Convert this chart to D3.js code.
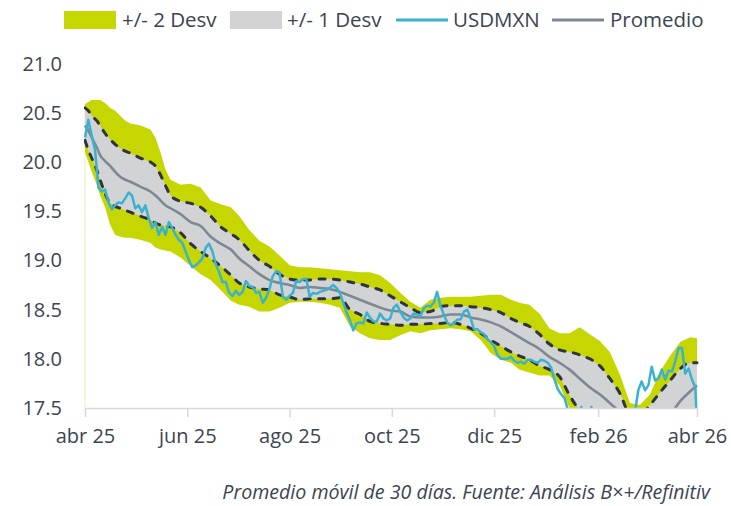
<!DOCTYPE html>
<html><head><meta charset="utf-8">
<script src="https://cdn.jsdelivr.net/npm/d3@7"></script>
<style>body{margin:0;background:#fff} svg{display:block}</style>
</head><body>
<svg id="chart" width="731" height="506"></svg>
<script>
// Días desde el 1 de abril de 2025
const diasBanda = [0,2,4,7,9,12,15,18,21,24,27,33,39,42,45,48,51,57,63,69,75,81,87,92,98,104,110,116,122,128,134,140,146,152,158,164,170,176,182,188,194,200,206,212,218,224,230,236,242,248,254,259,265,271,277,283,289,295,301,307,313,319,325,331,337,343,349,355,361,365];
const dosDesvSup = [20.59,20.61,20.63,20.63,20.63,20.60,20.55,20.52,20.47,20.42,20.39,20.37,20.33,20.25,20.10,19.92,19.82,19.77,19.78,19.74,19.61,19.57,19.54,19.45,19.31,19.20,19.14,19.05,18.95,18.93,18.93,18.92,18.91,18.90,18.89,18.88,18.88,18.85,18.77,18.67,18.58,18.52,18.60,18.62,18.63,18.63,18.63,18.64,18.65,18.65,18.60,18.57,18.55,18.46,18.31,18.26,18.26,18.32,18.25,18.18,18.07,17.84,17.55,17.53,17.64,17.87,18.03,18.17,18.22,18.21];
const dosDesvInf = [20.10,20.00,19.90,19.77,19.66,19.54,19.36,19.26,19.24,19.23,19.23,19.21,19.18,19.13,19.11,19.10,19.09,19.03,18.94,18.86,18.80,18.70,18.59,18.55,18.53,18.48,18.48,18.52,18.57,18.58,18.58,18.57,18.55,18.52,18.33,18.26,18.21,18.19,18.19,18.24,18.28,18.26,18.29,18.30,18.31,18.30,18.28,18.19,18.06,17.99,17.96,17.89,17.86,17.83,17.83,17.73,17.50,17.33,17.17,17.07,17.02,16.97,16.87,16.87,16.97,17.07,17.12,17.17,17.17,17.17];
const unaDesvSup = [20.55,20.52,20.47,20.42,20.37,20.29,20.23,20.18,20.14,20.11,20.09,20.04,20.00,19.96,19.87,19.76,19.66,19.60,19.58,19.54,19.45,19.34,19.27,19.21,19.10,19.00,18.94,18.86,18.81,18.80,18.80,18.81,18.81,18.80,18.78,18.76,18.73,18.70,18.64,18.58,18.52,18.47,18.48,18.53,18.54,18.54,18.53,18.52,18.50,18.47,18.41,18.37,18.33,18.25,18.15,18.09,18.07,18.04,18.00,17.93,17.80,17.65,17.44,17.43,17.53,17.66,17.78,17.90,17.96,17.96];
const promedio = [20.37,20.32,20.25,20.15,20.07,20.01,19.96,19.90,19.85,19.82,19.80,19.75,19.70,19.66,19.61,19.56,19.53,19.47,19.39,19.35,19.24,19.17,19.11,19.02,18.94,18.86,18.80,18.77,18.75,18.72,18.73,18.72,18.71,18.68,18.64,18.60,18.56,18.52,18.49,18.48,18.43,18.42,18.42,18.43,18.45,18.45,18.42,18.40,18.37,18.33,18.27,18.22,18.16,18.10,18.02,17.96,17.89,17.80,17.71,17.64,17.55,17.46,17.38,17.32,17.30,17.34,17.43,17.57,17.67,17.73];
const unaDesvInf = [20.22,20.12,20.04,19.92,19.82,19.68,19.58,19.55,19.53,19.51,19.49,19.45,19.41,19.38,19.36,19.35,19.34,19.28,19.17,19.09,19.02,18.94,18.85,18.77,18.73,18.71,18.70,18.65,18.63,18.60,18.61,18.61,18.61,18.62,18.50,18.45,18.38,18.36,18.35,18.34,18.35,18.35,18.36,18.36,18.37,18.35,18.31,18.26,18.19,18.13,18.07,18.03,17.99,17.93,17.89,17.82,17.63,17.48,17.43,17.36,17.30,17.26,17.22,17.20,17.15,17.12,17.14,17.22,17.30,17.38];

const diasSpot = d3.range(0, 365, 2).concat([365]);
const usdmxn = [
20.25,20.43,20.27,20.12,19.74,19.70,19.72,19.59,19.52,19.56,
19.59,19.58,19.63,19.69,19.66,19.53,19.56,19.49,19.56,19.43,
19.33,19.39,19.26,19.34,19.26,19.39,19.33,19.26,19.21,19.18,
19.09,19.00,18.93,18.95,18.98,19.02,19.13,19.17,19.09,18.96,
18.88,18.78,18.78,18.67,18.64,18.69,18.65,18.68,18.79,18.74,
18.73,18.67,18.68,18.57,18.62,18.71,18.84,18.89,18.88,18.63,
18.60,18.64,18.67,18.79,18.78,18.81,18.81,18.63,18.67,18.66,
18.68,18.69,18.70,18.72,18.75,18.72,18.67,18.57,18.47,18.39,
18.29,18.36,18.37,18.36,18.47,18.42,18.38,18.38,18.46,18.41,
18.39,18.41,18.52,18.55,18.48,18.42,18.39,18.41,18.46,18.45,
18.43,18.51,18.54,18.53,18.57,18.68,18.54,18.45,18.37,18.34,
18.36,18.40,18.40,18.48,18.50,18.41,18.30,18.30,18.27,18.25,
18.20,18.17,18.13,18.04,18.00,18.00,18.00,18.02,17.98,17.96,
17.97,17.95,17.99,17.99,17.97,17.96,17.99,17.98,17.96,17.91,
17.79,17.69,17.64,17.60,17.48,17.36,17.34,17.41,17.51,17.38,
17.35,17.51,17.36,17.26,17.15,17.12,17.15,17.17,17.17,17.12,
17.15,17.17,17.25,17.33,17.46,17.68,17.77,17.68,17.73,17.92,
17.78,17.80,17.89,17.79,17.88,17.87,17.97,18.11,18.11,17.85,
17.90,17.79,17.71,17.33];

const fechasEje = ["2025-04-01","2025-06-01","2025-08-01","2025-10-01","2025-12-01","2026-02-01","2026-04-01"];
const etiquetasX = ["abr 25","jun 25","ago 25","oct 25","dic 25","feb 26","abr 26"];
const ticksY = [17.5,18.0,18.5,19.0,19.5,20.0,20.5,21.0];
const leyenda = ["+/- 2 Desv","+/- 1 Desv","USDMXN","Promedio"];
const nota = "Promedio móvil de 30 días. Fuente: Análisis B×+/Refinitiv";

const FONT = "'Open Sans', sans-serif";
const TXT = "#3b4452";
const C_VERDE = "#c5d600", C_GRIS = "#d2d3d5", C_AZUL = "#3bb1d0", C_PROM = "#7d8893", C_DASH = "#2e3440";

const parse = d3.timeParse("%Y-%m-%d");
const inicio = parse("2025-04-01");
const fecha = d => d3.timeDay.offset(inicio, d);

const svg = d3.select("#chart");
const x = d3.scaleTime().domain([inicio, parse("2026-04-01")]).range([85, 697]);
const y = d3.scaleLinear().domain([17.5, 21.0]).range([408, 63.6]);

const bandas = diasBanda.map((d, i) => ({
  f: fecha(d), s2: dosDesvSup[i], i2: dosDesvInf[i], s1: unaDesvSup[i], i1: unaDesvInf[i], m: promedio[i]
}));
const spot = diasSpot.map((d, i) => ({ f: fecha(d), v: usdmxn[i] }));

svg.append("clipPath").attr("id", "clip").append("rect")
  .attr("x", 84).attr("y", 50).attr("width", 616).attr("height", 358);

const g = svg.append("g").attr("clip-path", "url(#clip)");

// faint left edge
g.append("line").attr("x1", x(inicio)).attr("x2", x(inicio))
  .attr("y1", y(dosDesvSup[0])).attr("y2", y(17.5))
  .attr("stroke", "#eef2c6").attr("stroke-width", 1.2);

g.append("path").datum(bandas)
  .attr("d", d3.area().x(d => x(d.f)).y0(d => y(d.i2)).y1(d => y(d.s2)))
  .attr("fill", C_VERDE);
g.append("path").datum(bandas)
  .attr("d", d3.area().x(d => x(d.f)).y0(d => y(d.i1)).y1(d => y(d.s1)))
  .attr("fill", C_GRIS);

const lineaDash = k => d3.line().x(d => x(d.f)).y(d => y(d[k])).curve(d3.curveMonotoneX);
["s1", "i1"].forEach(k => {
  g.append("path").datum(bandas).attr("d", lineaDash(k))
    .attr("fill", "none").attr("stroke", C_DASH).attr("stroke-width", 3)
    .attr("stroke-dasharray", "6,8.5").attr("stroke-linecap", "round");
});
g.append("path").datum(bandas).attr("d", lineaDash("m"))
  .attr("fill", "none").attr("stroke", C_PROM).attr("stroke-width", 2.6);

g.append("path").datum(spot)
  .attr("d", d3.line().x(d => x(d.f)).y(d => y(d.v)))
  .attr("fill", "none").attr("stroke", C_AZUL).attr("stroke-width", 2.5)
  .attr("stroke-linejoin", "round");

// X axis
const ax = svg.append("g").attr("transform", "translate(0,408)")
  .call(d3.axisBottom(x).tickValues(fechasEje.map(parse))
    .tickFormat((d, i) => etiquetasX[i]).tickSize(9).tickSizeOuter(0).tickPadding(12));
ax.select(".domain").attr("stroke", "#d9d9d9").attr("stroke-width", 1.6);
ax.selectAll(".tick line").attr("stroke", "#d9d9d9").attr("stroke-width", 1.6);
ax.selectAll(".tick text").attr("font-family", FONT).attr("font-size", 20).attr("fill", TXT);

// Y axis
const ay = svg.append("g").attr("transform", "translate(85,0)")
  .call(d3.axisLeft(y).tickValues(ticksY).tickFormat(d3.format(".1f")).tickSize(0).tickPadding(23));
ay.select(".domain").remove();
ay.selectAll(".tick text").attr("font-family", FONT).attr("font-size", 20).attr("fill", TXT);

// Legend
const lg = svg.append("g").attr("font-family", FONT).attr("font-size", 20.5).attr("fill", TXT);
lg.append("rect").attr("x", 64).attr("y", 11).attr("width", 52).attr("height", 18).attr("fill", C_VERDE);
lg.append("text").attr("x", 122).attr("y", 27).text(leyenda[0]);
lg.append("rect").attr("x", 230).attr("y", 11).attr("width", 52).attr("height", 18).attr("fill", C_GRIS);
lg.append("text").attr("x", 287).attr("y", 27).text(leyenda[1]);
lg.append("line").attr("x1", 396).attr("x2", 448).attr("y1", 20).attr("y2", 20).attr("stroke", C_AZUL).attr("stroke-width", 3);
lg.append("text").attr("x", 453).attr("y", 27).text(leyenda[2]);
lg.append("line").attr("x1", 552).attr("x2", 604).attr("y1", 20).attr("y2", 20).attr("stroke", C_PROM).attr("stroke-width", 3);
lg.append("text").attr("x", 610).attr("y", 27).text(leyenda[3]);

svg.append("text").attr("x", 710).attr("y", 499).attr("text-anchor", "end")
  .attr("font-family", FONT).attr("font-style", "italic").attr("font-size", 19.6).attr("fill", TXT)
  .text(nota);
</script>
</body></html>
